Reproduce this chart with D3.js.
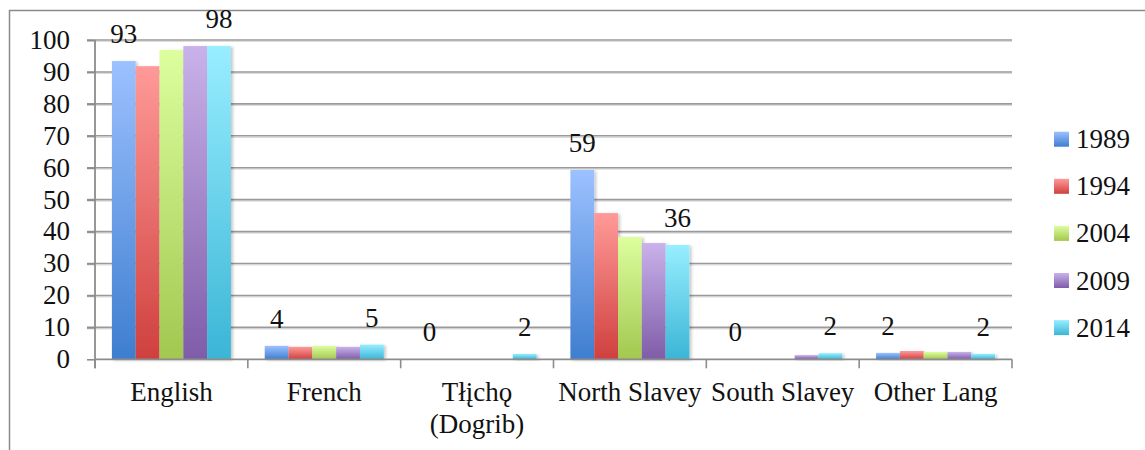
<!DOCTYPE html>
<html>
<head>
<meta charset="utf-8">
<script src="https://cdn.jsdelivr.net/npm/d3@7"></script>
<style>
  html, body { margin: 0; padding: 0; background: #fff; }
  svg { display: block; }
  text { font-family: "Liberation Serif", "Times New Roman", serif; fill: #111; }
</style>
</head>
<body>
<svg id="chart" width="1145" height="450"></svg>
<script>
// Share of respondents by language spoken, by survey year
const categories = ["English", "French", "Tłįchǫ\n(Dogrib)", "North Slavey", "South Slavey", "Other Lang"];
const years = ["1989", "1994", "2004", "2009", "2014"];
const v1989 = [93.4, 4.2, 0, 59.3, 0, 2.0];
const v1994 = [91.8, 3.9, 0, 45.8, 0, 2.6];
const v2004 = [96.9, 4.2, 0, 38.3, 0, 2.3];
const v2009 = [98.1, 3.9, 0, 36.4, 1.3, 2.3];
const v2014 = [98.1, 4.6, 1.7, 35.8, 1.9, 1.7];
const yTicks = [0, 10, 20, 30, 40, 50, 60, 70, 80, 90, 100];
const colorTop = ["#9cc1ff", "#ff9a98", "#ddfe9e", "#c9b2eb", "#98eeff"];
const colorBottom = ["#3e7ecf", "#cf403e", "#a2c850", "#7f5ca8", "#3bb5d6"];

const seriesValues = [v1989, v1994, v2004, v2009, v2014];
const labelledSeries = [0, 4];

const svg = d3.select("#chart");
const defs = svg.append("defs");

years.forEach((yr, i) => {
  const g = defs.append("linearGradient")
    .attr("id", "grad" + i)
    .attr("x1", 0).attr("y1", 0).attr("x2", 0).attr("y2", 1);
  g.append("stop").attr("offset", "0%").attr("stop-color", colorTop[i]);
  g.append("stop").attr("offset", "100%").attr("stop-color", colorBottom[i]);
});

const shadow = defs.append("filter").attr("id", "barShadow")
  .attr("x", "-20%").attr("y", "-10%").attr("width", "150%").attr("height", "130%");
shadow.append("feDropShadow")
  .attr("dx", 2).attr("dy", 1).attr("stdDeviation", 1.6)
  .attr("flood-color", "#000").attr("flood-opacity", 0.22);

// outer frame
svg.append("path")
  .attr("d", "M9.5,452 L9.5,10.5 L1150,10.5")
  .attr("fill", "none").attr("stroke", "#8a8a8a").attr("stroke-width", 1.5);

const plotLeft = 95, plotRight = 1012, plotTop = 40, plotBottom = 359.3;

const y = d3.scaleLinear().domain([0, 100]).range([plotBottom, plotTop]);
const x = d3.scaleBand().domain(categories).range([plotLeft, plotRight]).padding(0);
const xs = d3.scaleBand().domain(years).range([0, x.bandwidth()])
  .paddingInner(0).paddingOuter(0.71);

// gridlines with a soft lower edge
const grid = svg.append("g");
yTicks.filter(t => t > 0).forEach(t => {
  grid.append("line")
    .attr("x1", plotLeft - 8).attr("x2", plotRight)
    .attr("y1", y(t) + 1.5).attr("y2", y(t) + 1.5)
    .attr("stroke", "#dcdcdc").attr("stroke-width", 1.2);
  grid.append("line")
    .attr("x1", plotLeft - 8).attr("x2", plotRight)
    .attr("y1", y(t)).attr("y2", y(t))
    .attr("stroke", "#9a9a9a").attr("stroke-width", 1.6);
});

// y axis
const yAxis = d3.axisLeft(y).tickValues(yTicks).tickSize(8).tickPadding(17);
const yg = svg.append("g").attr("transform", `translate(${plotLeft},0)`).call(yAxis);
yg.select(".domain").remove();
yg.selectAll(".tick line").attr("stroke", "#8c8c8c").attr("stroke-width", 1.6);
yg.selectAll(".tick text")
  .attr("font-family", "Liberation Serif").attr("font-size", 27)
  .attr("fill", "#111").attr("dy", "0.31em");
svg.append("line")
  .attr("x1", plotLeft).attr("x2", plotLeft)
  .attr("y1", plotTop).attr("y2", plotBottom + 9)
  .attr("stroke", "#8c8c8c").attr("stroke-width", 1.8);

// bars
const groups = svg.append("g").selectAll("g")
  .data(categories).join("g")
  .attr("transform", d => `translate(${x(d)},0)`);

groups.each(function(cat, ci) {
  const g = d3.select(this);
  years.forEach((yr, si) => {
    const v = seriesValues[si][ci];
    if (v <= 0) return;
    g.append("rect")
      .attr("x", xs(yr))
      .attr("y", y(v))
      .attr("width", xs.bandwidth())
      .attr("height", y(0) - y(v))
      .attr("fill", `url(#grad${si})`)
      .attr("filter", "url(#barShadow)");
  });
});

// value labels on the first and last series
groups.each(function(cat, ci) {
  const g = d3.select(this);
  labelledSeries.forEach(si => {
    const v = seriesValues[si][ci];
    g.append("text")
      .attr("x", xs(years[si]) + xs.bandwidth() / 2)
      .attr("y", y(v) - 18)
      .attr("text-anchor", "middle")
      .attr("font-size", 27)
      .text(d3.format(".0f")(v));
  });
});

// x axis
svg.append("line")
  .attr("x1", plotLeft).attr("x2", plotRight)
  .attr("y1", plotBottom).attr("y2", plotBottom)
  .attr("stroke", "#8c8c8c").attr("stroke-width", 1.8);
const boundaries = categories.map(c => x(c)).concat([plotRight]);
svg.append("g").selectAll("line")
  .data(boundaries).join("line")
  .attr("x1", d => d).attr("x2", d => d)
  .attr("y1", plotBottom).attr("y2", plotBottom + 9)
  .attr("stroke", "#8c8c8c").attr("stroke-width", 1.6);

svg.append("g").selectAll("text")
  .data(categories).join("text")
  .attr("text-anchor", "middle")
  .attr("font-size", 27)
  .attr("x", d => x(d) + x.bandwidth() / 2)
  .attr("y", 401)
  .each(function(d) {
    const lines = d.split("\n");
    const t = d3.select(this);
    lines.forEach((ln, i) => {
      t.append("tspan")
        .attr("x", x(d) + x.bandwidth() / 2)
        .attr("dy", i === 0 ? 0 : 32)
        .text(ln);
    });
  });

// legend
const legend = svg.append("g").attr("transform", "translate(1054,131.7)");
years.forEach((yr, i) => {
  const row = legend.append("g").attr("transform", `translate(0,${i * 47.1})`);
  row.append("rect")
    .attr("width", 15).attr("height", 15)
    .attr("fill", `url(#grad${i})`);
  row.append("text")
    .attr("x", 22).attr("y", 16.5)
    .attr("font-size", 27)
    .text(yr);
});
</script>
</body>
</html>
